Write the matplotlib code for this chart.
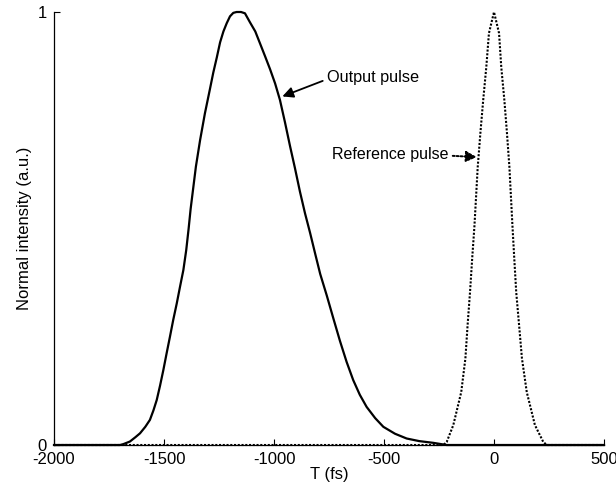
import matplotlib
matplotlib.use("Agg")
import matplotlib.pyplot as plt

# Output pulse (solid)
out_t = [-2000, -1700, -1685, -1655, -1630, -1609, -1585, -1564, -1548, -1533,
         -1518, -1503, -1488, -1473, -1458, -1442, -1427, -1412, -1399, -1388,
         -1379, -1368, -1355, -1336, -1314, -1292, -1276, -1260, -1245, -1230,
         -1215, -1200, -1185, -1170, -1150, -1132, -1109, -1085, -1064, -1040,
         -1018, -995, -973, -950, -927, -905, -882, -859, -836, -812,
         -790, -760, -730, -700, -670, -640, -610, -579, -540, -503,
         -450, -397, -340, -276, -240, -215, 500]
out_i = [0, 0, 0.002, 0.008, 0.018, 0.027, 0.042, 0.058, 0.08, 0.104,
         0.137, 0.173, 0.212, 0.25, 0.289, 0.327, 0.366, 0.404, 0.45, 0.5,
         0.545, 0.59, 0.643, 0.704, 0.766, 0.82, 0.86, 0.895, 0.93, 0.955,
         0.974, 0.99, 0.998, 1.0, 1.0, 0.997, 0.976, 0.955, 0.928, 0.897,
         0.868, 0.835, 0.797, 0.745, 0.69, 0.64, 0.585, 0.535, 0.49, 0.44,
         0.395, 0.345, 0.292, 0.24, 0.192, 0.15, 0.116, 0.088, 0.062, 0.042,
         0.026, 0.015, 0.009, 0.005, 0.002, 0.0, 0.0]

# Reference pulse (dotted)
ref_t = [-2000, -230, -215, -185, -149, -130, -120, -109, -99, -89, -74, -62,
         -49, -35, -23, 0, 23, 33, 47, 59, 70, 84, 92, 101, 114, 127, 149,
         186, 224, 240, 500]
ref_i = [0, 0, 0.007, 0.046, 0.122, 0.2, 0.277, 0.353, 0.432, 0.505, 0.642,
         0.72, 0.797, 0.873, 0.951, 1.0, 0.951, 0.873, 0.797, 0.72, 0.642,
         0.505, 0.432, 0.353, 0.277, 0.2, 0.122, 0.046, 0.007, 0, 0]

x_ticks = [-2000, -1500, -1000, -500, 0, 500]
y_ticks = [0, 1]

plt.rcParams['font.family'] = ['Liberation Sans', 'DejaVu Sans']
plt.rcParams['axes.unicode_minus'] = False

fig = plt.figure(figsize=(6.16, 4.95), dpi=100)
ax = fig.add_axes([54/616, 50/495, 550/616, 433/495])

ax.plot(ref_t, ref_i, color='black', lw=1.5, linestyle=(0, (1, 0.8)),
        clip_on=False, zorder=2)
ax.plot(out_t, out_i, color='black', lw=1.6, clip_on=False, zorder=3)

ax.set_xlim(-2000, 500)
ax.set_ylim(0, 1)
ax.set_xticks(x_ticks)
ax.set_xticklabels([str(v) for v in x_ticks])
ax.set_yticks(y_ticks)
ax.set_yticklabels([str(v) for v in y_ticks])

for s in ['top', 'right']:
    ax.spines[s].set_visible(False)
for s in ['left', 'bottom']:
    ax.spines[s].set_linewidth(0.9)
    ax.spines[s].set_color('black')

ax.tick_params(axis='both', direction='in', length=4, width=0.8,
               labelsize=12, colors='black')
ax.tick_params(axis='x', pad=5)
ax.tick_params(axis='y', pad=5)

ax.set_xlabel('T (fs)', fontsize=12, labelpad=0)
ax.set_ylabel('Normal intensity (a.u.)', fontsize=12, labelpad=4)

ax.annotate('Output pulse', xy=(-962, 0.805), xytext=(-760, 0.848),
            fontsize=11.7, ha='left', va='center',
            arrowprops=dict(arrowstyle='-|>', color='black', lw=1.3,
                            mutation_scale=16, shrinkA=1, shrinkB=0,
                            relpos=(0, 0.4)))
ax.annotate('Reference pulse', xy=(-78, 0.665), xytext=(-736, 0.67),
            fontsize=11.5, ha='left', va='center',
            arrowprops=dict(arrowstyle='-|>', color='black', lw=1.4,
                            linestyle=(0, (1, 1)),
                            mutation_scale=16, shrinkA=1, shrinkB=0,
                            relpos=(1, 0.45)))

fig.savefig('out.png', dpi=100)
